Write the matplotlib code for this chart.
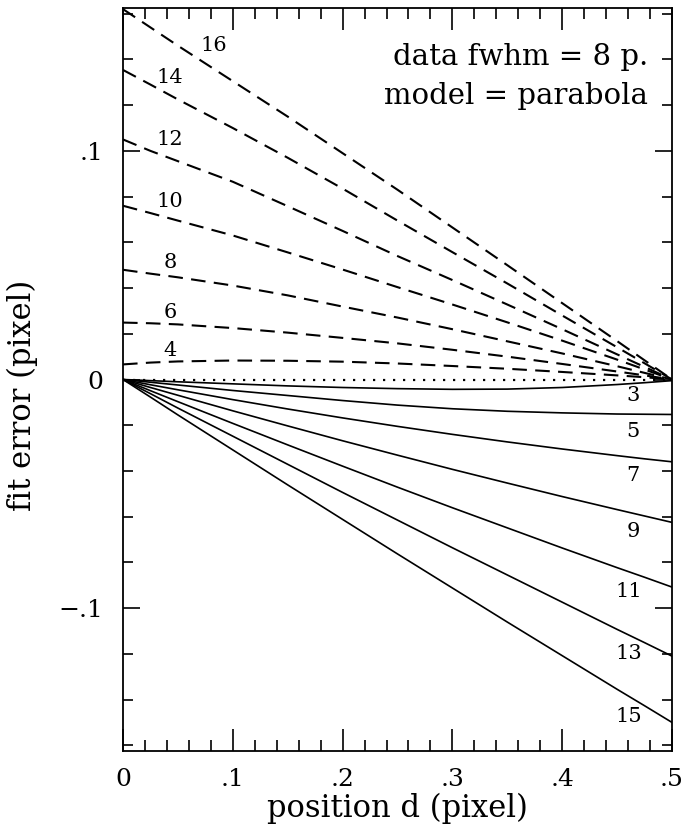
import matplotlib
matplotlib.use('Agg')
import matplotlib.pyplot as plt
from matplotlib.ticker import MultipleLocator, FixedLocator, FixedFormatter

plt.rcParams['font.family'] = ['DejaVu Serif']

# sample positions (pixel)
x = [0, 0.025, 0.05, 0.1, 0.15, 0.2, 0.25, 0.3, 0.35, 0.4, 0.45, 0.475, 0.5]

# dashed curves, even fwhm of model
even_ids = [4, 6, 8, 10, 12, 14, 16]
even_y = [
    [0.0066, 0.0074, 0.0079, 0.0083, 0.0082, 0.0078, 0.0070, 0.0059, 0.0047, 0.0033, 0.0018, 0.0010, 0],
    [0.0249, 0.0246, 0.0241, 0.0225, 0.0205, 0.0182, 0.0158, 0.0130, 0.0100, 0.0068, 0.0035, 0.0018, 0],
    [0.0480, 0.0463, 0.0447, 0.0411, 0.0368, 0.0319, 0.0271, 0.0220, 0.0167, 0.0114, 0.0058, 0.0029, 0],
    [0.0760, 0.0728, 0.0695, 0.0630, 0.0556, 0.0481, 0.0404, 0.0328, 0.0250, 0.0170, 0.0087, 0.0044, 0],
    [0.1050, 0.1000, 0.0955, 0.0865, 0.0758, 0.0650, 0.0540, 0.0435, 0.0328, 0.0220, 0.0110, 0.0055, 0],
    [0.1354, 0.1290, 0.1225, 0.1100, 0.0970, 0.0835, 0.0695, 0.0557, 0.0420, 0.0280, 0.0141, 0.0071, 0],
    [0.1620, 0.1540, 0.1460, 0.1305, 0.1150, 0.0990, 0.0830, 0.0665, 0.0500, 0.0334, 0.0168, 0.0084, 0],
]
even_lab = [(0.043, 0.0127), (0.043, 0.0293), (0.043, 0.0511), (0.043, 0.078),
            (0.043, 0.1048), (0.043, 0.132), (0.083, 0.146)]

# solid curves, odd fwhm of model
odd_ids = [3, 5, 7, 9, 11, 13, 15]
odd_y = [
    [0, -0.0005, -0.0010, -0.0019, -0.0028, -0.0035, -0.0040, -0.0043, -0.0042, -0.0035, -0.0022, -0.0014, -0.0005],
    [0, -0.0012, -0.0024, -0.0048, -0.0070, -0.0092, -0.0112, -0.0128, -0.0139, -0.0146, -0.0151, -0.0152, -0.0153],
    [0, -0.0023, -0.0045, -0.0088, -0.0129, -0.0168, -0.0205, -0.0240, -0.0273, -0.0304, -0.0333, -0.0347, -0.0360],
    [0, -0.0035, -0.0069, -0.0137, -0.0203, -0.0268, -0.0331, -0.0393, -0.0453, -0.0512, -0.0569, -0.0597, -0.0625],
    [0, -0.0049, -0.0097, -0.0192, -0.0286, -0.0379, -0.0471, -0.0561, -0.0649, -0.0737, -0.0823, -0.0865, -0.0908],
    [0, -0.0062, -0.0125, -0.0248, -0.0371, -0.0494, -0.0615, -0.0736, -0.0855, -0.0974, -0.1093, -0.1151, -0.1210],
    [0, -0.0077, -0.0155, -0.0308, -0.0461, -0.0612, -0.0763, -0.0912, -0.1061, -0.1208, -0.1355, -0.1427, -0.1500],
]
odd_lab = [(0.4645, -0.0070), (0.4645, -0.0227), (0.4645, -0.0419), (0.4645, -0.0664),
           (0.461, -0.0926), (0.461, -0.120), (0.461, -0.1476)]

fig = plt.figure(figsize=(6.83, 8.26), dpi=100)
ax = fig.add_axes([123/683, 1-751/826, 549/683, 743/826])

for ids, ys, lab in zip(even_ids, even_y, even_lab):
    ax.plot(x, ys, color='black', lw=1.5, dashes=(7, 4))
    ax.text(lab[0], lab[1], str(ids), fontsize=15, ha='center', va='center')

for ids, ys, lab in zip(odd_ids, odd_y, odd_lab):
    ax.plot(x, ys, color='black', lw=1.2)
    ax.text(lab[0], lab[1], str(ids), fontsize=15, ha='center', va='center')

# zero line
ax.plot([0, 0.5], [0, 0], color='black', lw=1.6, linestyle=(0, (1, 3.5)))

ax.set_xlim(0, 0.5)
ax.set_ylim(-0.1625, 0.1625)

ax.xaxis.set_major_locator(FixedLocator([0, 0.1, 0.2, 0.3, 0.4, 0.5]))
ax.xaxis.set_major_formatter(FixedFormatter(['0', '.1', '.2', '.3', '.4', '.5']))
ax.xaxis.set_minor_locator(MultipleLocator(0.02))
ax.yaxis.set_major_locator(FixedLocator([-0.1, 0, 0.1]))
ax.yaxis.set_major_formatter(FixedFormatter(['\u2212.1', '0', '.1']))
ax.yaxis.set_minor_locator(MultipleLocator(0.02))

ax.tick_params(axis='x', which='both', direction='in', top=True, labelsize=18, pad=12)
ax.tick_params(axis='y', which='both', direction='in', right=True, labelsize=18, pad=14)
ax.tick_params(axis='x', which='major', length=16, width=1.2)
ax.tick_params(axis='x', which='minor', length=8, width=1.2)
ax.tick_params(axis='y', which='major', length=12, width=1.2)
ax.tick_params(axis='y', which='minor', length=7, width=1.2)
for s in ax.spines.values():
    s.set_linewidth(1.3)

ax.set_xlabel('position d (pixel)', fontsize=22, va='baseline')
ax.xaxis.set_label_coords(0.5, -0.0895)
ax.set_ylabel('fit error (pixel)', fontsize=22, va='center')
ax.yaxis.set_label_coords(-0.184, 0.479)

ax.text(0.956, 0.953, 'data fwhm = 8 p.', transform=ax.transAxes, fontsize=21,
        ha='right', va='top')
ax.text(0.956, 0.900, 'model = parabola', transform=ax.transAxes, fontsize=21,
        ha='right', va='top')

fig.savefig('out.png', dpi=100)
